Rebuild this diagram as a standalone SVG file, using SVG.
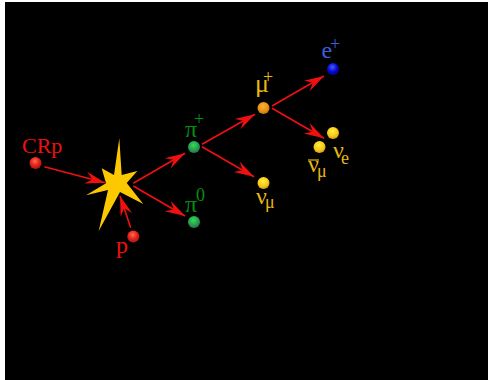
<svg xmlns="http://www.w3.org/2000/svg" width="488" height="380" viewBox="0 0 488 380">
  <style>
    text { font-family: "Liberation Serif", "Times New Roman", serif; }
    .link { stroke: #f01010; stroke-width: 1.6; fill: none; marker-end: url(#head); }
    .red { fill: #ee1010; }
    .green { fill: #009010; }
    .gold { fill: #e8b810; }
    .blue { fill: #3a5fd8; }
    .big { font-size: 24px; }
    .sup { font-size: 18px; }
    .sub { font-size: 18px; }
    .bar { stroke: #e8b810; stroke-width: 1.2; }
  </style>
  <defs>
    <marker id="head" markerUnits="userSpaceOnUse" markerWidth="22" markerHeight="14" refX="20" refY="6" orient="auto" viewBox="0 0 22 12">
      <path d="M0 0 L20 6 L0 12 L7 6 Z" fill="#f01010"/>
    </marker>
    <radialGradient id="ballRed" cx="0.45" cy="0.35" r="0.7">
      <stop offset="0" stop-color="#ff6a50"/><stop offset="0.55" stop-color="#e02018"/><stop offset="1" stop-color="#a01510"/>
    </radialGradient>
    <radialGradient id="ballGreen" cx="0.45" cy="0.35" r="0.7">
      <stop offset="0" stop-color="#30e050"/><stop offset="0.6" stop-color="#2a9a50"/><stop offset="1" stop-color="#2a6a48"/>
    </radialGradient>
    <radialGradient id="ballOrange" cx="0.45" cy="0.35" r="0.7">
      <stop offset="0" stop-color="#ffb030"/><stop offset="0.6" stop-color="#e89018"/><stop offset="1" stop-color="#b07010"/>
    </radialGradient>
    <radialGradient id="ballBlue" cx="0.45" cy="0.35" r="0.7">
      <stop offset="0" stop-color="#4060ff"/><stop offset="0.55" stop-color="#0808d0"/><stop offset="1" stop-color="#000080"/>
    </radialGradient>
    <radialGradient id="ballYellow" cx="0.45" cy="0.35" r="0.7">
      <stop offset="0" stop-color="#fff040"/><stop offset="0.6" stop-color="#f8c818"/><stop offset="1" stop-color="#d09010"/>
    </radialGradient>
  </defs>

  <rect width="488" height="380" fill="#ffffff"/>
  <rect x="5" y="2" width="483" height="378" fill="#000000"/>

  <g id="collision">
    <path d="M119.3 138.3 L121.7 175 L137.3 171 L126.7 183 L143.3 204 L120 192 L98.7 231 L108 190 L86 195.3 L106 183.3 L101.7 168.3 L114 175 Z" fill="#fcc800"/>
  </g>

  <g id="connectors">
    <line class="link" x1="44.3" y1="166.7" x2="105" y2="182.7"/>
    <line class="link" x1="130.7" y1="227.7" x2="120" y2="196"/>
    <line class="link" x1="133.3" y1="183.3" x2="185" y2="153.3"/>
    <line class="link" x1="133.3" y1="186" x2="185" y2="216"/>
    <line class="link" x1="202" y1="144.3" x2="255" y2="114.3"/>
    <line class="link" x1="202" y1="146.7" x2="254" y2="176.7"/>
    <line class="link" x1="272" y1="106" x2="324" y2="76"/>
    <line class="link" x1="272" y1="108.3" x2="324" y2="138.3"/>
  </g>

  <g id="crp">
    <circle cx="35.5" cy="163" r="6" fill="url(#ballRed)"/>
    <text class="red" font-size="22" x="22" y="153">CRp</text>
  </g>
  <g id="proton">
    <circle cx="133.3" cy="236.5" r="6" fill="url(#ballRed)"/>
    <text class="red big" x="116" y="253">p</text>
  </g>
  <g id="pi-plus">
    <circle cx="194" cy="147" r="6" fill="url(#ballGreen)"/>
    <text class="green big" x="185" y="137">π</text>
    <text class="green sup" x="194" y="125">+</text>
  </g>
  <g id="pi-zero">
    <circle cx="194" cy="222" r="6" fill="url(#ballGreen)"/>
    <text class="green big" x="185" y="212">π</text>
    <text class="green sup" x="196" y="201">0</text>
  </g>
  <g id="nu-mu">
    <circle cx="263.5" cy="183" r="6" fill="url(#ballYellow)"/>
    <text class="gold big" x="256" y="204">ν</text>
    <text class="gold sub" x="265" y="208">μ</text>
  </g>
  <g id="mu-plus">
    <circle cx="263.5" cy="108" r="6" fill="url(#ballOrange)"/>
    <text class="gold" font-size="26" x="255" y="92">μ</text>
    <text class="gold sup" x="263" y="83">+</text>
  </g>
  <g id="positron">
    <circle cx="333" cy="69" r="6" fill="url(#ballBlue)"/>
    <text class="blue big" x="321.5" y="58">e</text>
    <text class="blue sup" x="330" y="50">+</text>
  </g>
  <g id="nu-e">
    <circle cx="333" cy="133" r="6" fill="url(#ballYellow)"/>
    <text class="gold big" x="333" y="158">ν</text>
    <text class="gold sub" x="341" y="164">e</text>
  </g>
  <g id="nu-mu-bar">
    <circle cx="319.5" cy="147" r="6" fill="url(#ballYellow)"/>
    <line class="bar" x1="308" y1="160" x2="319" y2="160"/>
    <text class="gold big" x="308" y="172">ν</text>
    <text class="gold sub" x="317" y="177">μ</text>
  </g>
</svg>
